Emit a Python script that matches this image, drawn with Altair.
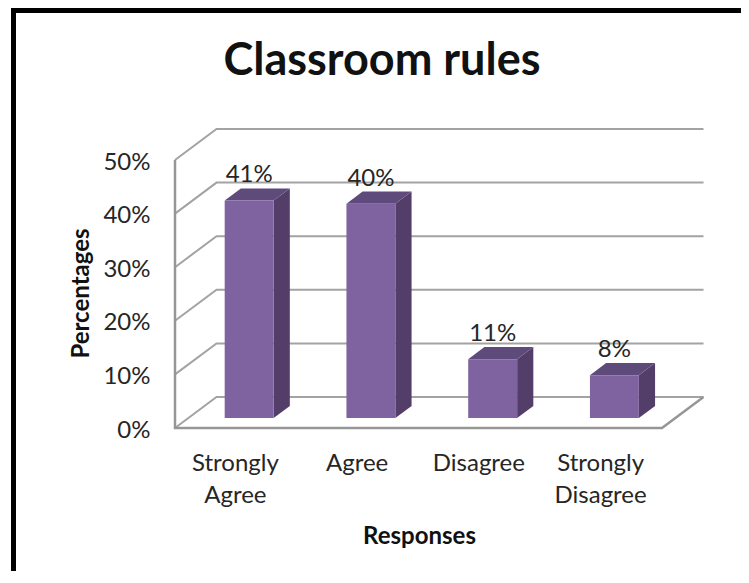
import json
import altair as alt
import pandas as pd

# --- values
categories = ["Strongly Agree", "Agree", "Disagree", "Strongly Disagree"]
label_lines = [["Strongly", "Agree"], ["Agree"], ["Disagree"], ["Strongly", "Disagree"]]
values = [40.6, 40, 11, 8]
ticks = [0, 10, 20, 30, 40, 50]

# --- pseudo-3D geometry, in data units
DX, DY = 0.341, 5.78          # depth of the whole floor
BAR_W = 0.402                 # bar width in category units
F0, F1 = 0.32, 0.71           # depth fraction of bar front and back faces
XMAX, YMAX = 528 / 121.75, 299 / 5.36

grid_rows = []
for t in ticks:
    grid_rows += [dict(g=f"t{t}", o=0, x=0, y=t), dict(g=f"t{t}", o=1, x=DX, y=t + DY),
                  dict(g=f"t{t}", o=2, x=4 + DX, y=t + DY)]
grid = pd.DataFrame(grid_rows)
edge = pd.DataFrame([dict(g="wall", o=0, x=0, y=50), dict(g="wall", o=1, x=0, y=0),
                     dict(g="wall", o=2, x=4, y=0), dict(g="wall", o=3, x=4 + DX, y=DY)])

front, side, top, lab = [], [], [], []
for i, (c, v) in enumerate(zip(categories, values)):
    x0 = i + 0.5 - BAR_W / 2 + DX * F0
    x1 = x0 + BAR_W
    b0 = DY * F0
    b1 = DY * F1
    front.append(dict(c=c, x=x0, x2=x1, y=b0, y2=b0 + v))
    shift = DX * (F1 - F0)
    side += [dict(c=c, x=x1, y=b0, y2=b0 + v), dict(c=c, x=x1 + shift, y=b1, y2=b1 + v)]
    top += [dict(c=c, y=b0 + v, x=x0, x2=x1), dict(c=c, y=b1 + v, x=x0 + shift, x2=x1 + shift)]
    lab.append(dict(c=c, x=(x0 + x1) / 2, y=b0 + v, t=f"{round(v)}%"))

FONT = "Lato"
TXT = "#262626"
xs = alt.Scale(domain=[0, XMAX], nice=False, zero=False)
ys = alt.Scale(domain=[0, YMAX], nice=False, zero=False)

mapping = {str(i + 0.5): l for i, l in enumerate(label_lines)}
label_expr = "{}[''+datum.value]".format(json.dumps(mapping))

x_axis = alt.Axis(
    values=[0.5, 1.5, 2.5, 3.5], labelExpr=label_expr, labelFont=FONT, labelFontSize=24,
    labelColor=TXT, labelLineHeight=32, labelOverlap=False, labelBound=False, labelFlush=False,
    labelPadding=23, labelOffset=-1, labelBaseline="top", domain=False, ticks=False, grid=False,
    title="Responses", titleFont=FONT, titleFontSize=24, titleFontWeight="bold",
    titleColor="#111111", titleX=244, titleY=115, titleAlign="center", titleBaseline="alphabetic")
y_axis = alt.Axis(
    values=ticks, labelExpr="datum.value+'%'", labelFont=FONT, labelFontSize=24,
    labelColor=TXT, labelPadding=25, labelOffset=2, domain=False, ticks=False, grid=False,
    title="Percentages", titleFont=FONT, titleFontSize=24, titleFontWeight="bold",
    titleColor="#111111", titleX=-87, titleY=164, titleAngle=-90, titleAlign="center",
    titleBaseline="alphabetic")
X = alt.X("x:Q", scale=xs, axis=x_axis)
Y = alt.Y("y:Q", scale=ys, axis=y_axis)

grid_l = alt.Chart(grid).mark_line(color="#a3a3a3", strokeWidth=2).encode(
    x=X, y=Y, detail="g:N", order="o:Q")
edge_l = alt.Chart(edge).mark_line(color="#969696", strokeWidth=2.5).encode(
    x=X, y=Y, detail="g:N", order="o:Q")
side_l = alt.Chart(pd.DataFrame(side)).mark_area(color="#523e69", opacity=1).encode(
    x=X, y=Y, y2="y2:Q", detail="c:N")
top_l = alt.Chart(pd.DataFrame(top)).mark_area(color="#5f4a7c", orient="horizontal", opacity=1).encode(
    y=Y, x=X, x2="x2:Q", detail="c:N")
front_l = alt.Chart(pd.DataFrame(front)).mark_rect(color="#7f63a1").encode(
    x=X, x2="x2:Q", y=Y, y2="y2:Q")
lab_l = alt.Chart(pd.DataFrame(lab)).mark_text(
    font=FONT, fontSize=24, color=TXT, dy=-18, baseline="alphabetic", align="center").encode(
    x=X, y=Y, text="t:N")

frame_df = pd.DataFrame({"k": [0]})
frame_left = alt.Chart(frame_df).mark_rule(color="black", strokeWidth=5).encode(
    x=alt.value(-161.5), y=alt.value(-121), y2=alt.value(442))
frame_top = alt.Chart(frame_df).mark_rule(color="black", strokeWidth=5).encode(
    y=alt.value(-118.5), x=alt.value(-164), x2=alt.value(566))

chart = alt.layer(
    grid_l, edge_l, side_l, top_l, front_l, lab_l, frame_left, frame_top
).properties(
    width=528, height=299,
    padding={"left": 167, "top": 121, "right": 38, "bottom": 143},
    autosize=alt.AutoSizeParams(type="none"),
    background="white",
    title=alt.TitleParams("Classroom rules", font=FONT, fontSize=45, fontWeight="bold",
                          color="#111111", anchor="middle", dx=-57, offset=0, dy=114,
                          baseline="alphabetic"),
).configure_view(strokeWidth=0)

chart.save("out.html", embed_options={"renderer": "svg", "actions": False})
